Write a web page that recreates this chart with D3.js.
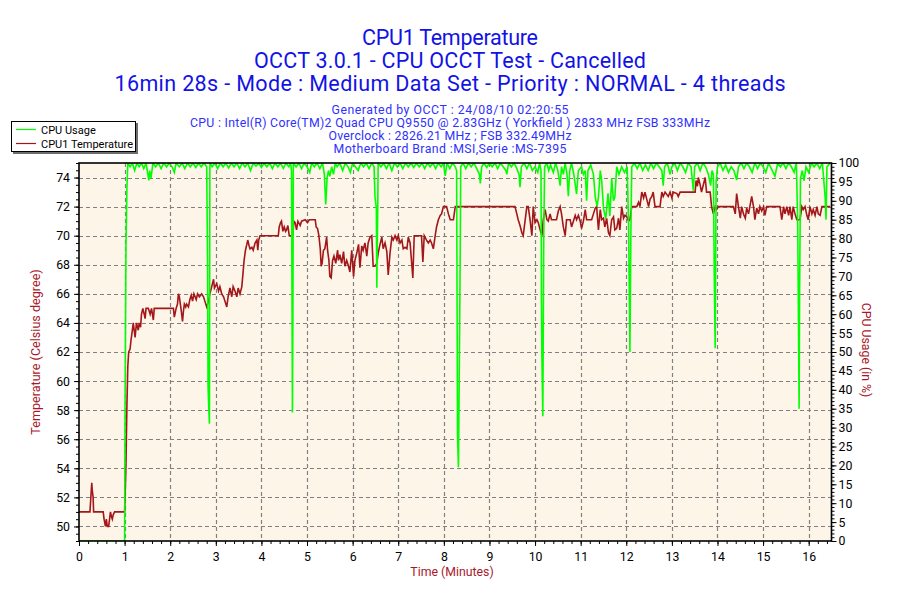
<!DOCTYPE html>
<html><head><meta charset="utf-8">
<script src="https://cdn.jsdelivr.net/npm/d3@7"></script>
<style>body{margin:0;background:#fff}svg{display:block}</style>
</head><body>
<svg id="c" width="900" height="600"></svg>
<script>
// ---------- text ----------
const titleLines = [
  "CPU1 Temperature",
  "OCCT 3.0.1 - CPU OCCT Test - Cancelled",
  "16min 28s - Mode : Medium Data Set - Priority : NORMAL - 4 threads"
];
const infoLines = [
  "Generated by OCCT : 24/08/10 02:20:55",
  "CPU : Intel(R) Core(TM)2 Quad CPU Q9550 @ 2.83GHz ( Yorkfield ) 2833 MHz FSB 333MHz",
  "Overclock : 2826.21 MHz ; FSB 332.49MHz",
  "Motherboard Brand :MSI,Serie :MS-7395"
];
const legendNames = ["CPU Usage", "CPU1 Temperature"];
const xTitle = "Time (Minutes)";
const yTitle = "Temperature (Celsius degree)";
const y2Title = "CPU Usage (in %)";

// ---------- ticks ----------
const timeTicks = d3.range(0, 17, 1);
const tempTicks = d3.range(50, 75, 2);
const usageTicks = d3.range(0, 101, 5);

// ---------- data: [minutes, value] ----------
const tempSeries = [
[0,51],[0.24,51],[0.26,52],[0.28,53],[0.29,52.5],[0.31,52],[0.32,51],[0.53,51],[0.55,50.5],[0.58,50],[0.60,50.5],[0.62,50],[0.65,50],[0.67,50.5],[0.69,51],[0.71,50.7],[0.73,50.5],[0.75,50.8],[0.78,51],[1.00,51],
[1.01,52],[1.03,54.3],[1.05,58.2],[1.07,61],[1.09,62],[1.12,62.2],[1.14,62.8],[1.17,63.5],[1.19,64],[1.23,63],[1.26,64],[1.30,63.5],[1.32,64],[1.35,63.7],[1.37,64.6],[1.40,65],[1.43,64.6],[1.45,64.3],[1.47,65],[1.52,65],[1.56,64.6],[1.59,65],[1.63,64.2],[1.65,65],[2.07,65],[2.09,64.4],[2.13,65],[2.16,65.3],[2.18,66],[2.20,65.8],[2.24,64.9],[2.27,64.1],[2.29,64.8],[2.31,65.3],[2.34,65.1],[2.36,65.3],[2.40,65.1],[2.43,65.6],[2.46,65.9],[2.49,65.5],[2.52,66],[2.57,65.6],[2.60,66],[2.64,65.8],[2.69,66],[2.73,65.8],[2.76,65.5],[2.80,65.1],[2.84,65.5],[2.87,66],[2.91,66.5],[2.95,67],[2.97,66.4],[3.02,66.7],[3.06,66.2],[3.09,66.5],[3.13,66],[3.17,65.8],[3.20,65.5],[3.24,65.1],[3.27,65.8],[3.31,66.4],[3.35,65.8],[3.38,66.5],[3.42,66.2],[3.46,65.8],[3.49,66.4],[3.53,66],[3.57,66.5],[3.59,67.2],[3.62,68.3],[3.65,69],[3.68,69.4],[3.70,69.7],[3.73,69.3],[3.75,69.1],[3.79,69.2],[3.82,69],[3.86,69.5],[3.90,69.7],[3.92,69],[3.94,69.7],[3.97,70],[4.37,70],[4.39,70.6],[4.42,70.9],[4.44,71],[4.47,70.3],[4.50,70.6],[4.53,70.3],[4.55,70.4],[4.58,70.7],[4.61,70],[4.69,70],[4.71,71],[4.74,70.9],[4.77,70.4],[4.80,71],[4.85,70.7],[4.88,71],[4.96,71.1],[5.01,70.9],[5.05,71.1],[5.18,71.1],[5.20,70.6],[5.23,70.5],[5.26,70],[5.29,69.1],[5.31,67.9],[5.33,68.1],[5.36,69],[5.39,69.1],[5.43,69.9],[5.45,69],[5.48,68.3],[5.50,67.2],[5.53,67.1],[5.56,68.3],[5.59,68.6],[5.63,68.1],[5.67,69],[5.69,68.3],[5.72,68.7],[5.76,68.1],[5.80,68.9],[5.83,67.9],[5.87,68.3],[5.91,67.9],[5.94,67.5],
[5.98,69.0],[6.02,67.2],[6.05,68.3],[6.09,68.8],[6.13,69.4],[6.16,67.8],[6.20,69.3],[6.23,69.0],[6.27,69.5],[6.31,68.6],[6.34,69.5],[6.38,69.9],[6.42,70.0],[6.45,67.9],[6.49,67.9],[6.53,68.1],[6.56,68.8],[6.60,69.4],[6.64,69.9],[6.67,69.1],[6.71,69.5],[6.75,68.9],[6.78,67.3],[6.82,68.8],[6.86,69.9],[6.89,69.7],[6.93,70.0],[6.97,69.7],[7.00,70.0],[7.04,69.5],[7.08,69.7],[7.11,69.1],[7.15,69.2],[7.19,69.1],[7.22,69.9],[7.26,69.5],[7.30,67.9],[7.32,67.1],[7.35,70.0],[7.51,70.0],[7.54,68.2],[7.57,70.0],[7.62,69.7],[7.66,69.5],[7.70,69.7],[7.73,69.5],[7.77,69.1],[7.81,70.0],[7.84,70.6],[7.88,71.1],[7.92,71.4],[7.95,71.5],[7.99,72.0],[8.06,72.0],[8.10,71.5],[8.14,71.1],[8.21,71.1],[8.25,72.0],[9.56,72.0],[9.60,71.5],[9.63,71.1],[9.67,70.7],[9.71,70.2],[9.74,70.0],[9.78,71.0],[9.82,72.0],[9.85,72.0],[9.89,71.1],[9.93,70.0],[9.96,72.0],[10.00,70.9],[10.04,71.1],[10.07,70.9],[10.11,70.4],[10.15,70.0],[10.18,71.1],[10.22,71.8],[10.26,71.1],[10.29,71.0],[10.33,71.5],[10.36,71.1],[10.47,71.1],[10.51,71.7],[10.55,72.0],[10.58,71.5],[10.62,70.6],[10.66,70.0],[10.69,71.1],[10.77,71.1],[10.80,70.6],[10.84,71.0],[10.88,71.4],[10.91,71.1],[10.95,71.4],[10.99,71.0],[11.02,70.5],[11.06,71.0],[11.10,71.8],[11.13,71.1],[11.24,71.1],[11.28,71.5],[11.32,71.9],[11.35,72.0],[11.39,70.4],[11.43,71.8],[11.46,71.1],[11.50,71.2],[11.53,70.6],[11.57,71.2],[11.61,70.2],[11.64,70.0],
[11.68,71.1],[11.72,71.3],[11.75,70.4],[11.79,70.5],[11.83,71.2],[11.86,70.4],[11.90,72.0],[11.94,71.2],[11.97,71.4],[12.01,71.3],[12.05,71.0],[12.08,71.1],[12.12,72.0],[12.23,72.0],[12.27,72.3],[12.30,72.0],[12.34,73.0],[12.38,72.6],[12.41,73.0],[12.45,72.5],[12.49,72.0],[12.52,72.5],[12.56,72.7],[12.59,73.0],[12.63,72.0],[12.74,72.0],[12.78,73.0],[12.81,72.7],[12.85,73.0],[12.92,72.7],[12.96,73.0],[13.00,72.6],[13.03,73.0],[13.11,72.9],[13.14,72.7],[13.18,73.0],[13.51,73.0],[13.53,73.8],[13.56,73.4],[13.58,74.0],[13.62,73.5],[13.65,73.0],[13.69,73.5],[13.73,74.0],[13.76,73.0],[13.84,73.0],[13.87,72.0],[13.91,71.5],[13.95,72.0],[13.98,71.8],[14.02,72.0],[14.35,72.0],[14.39,71.5],[14.42,72.9],[14.46,72.0],[14.50,71.2],[14.53,72.0],[14.57,71.5],[14.61,71.2],[14.64,71.9],[14.68,71.5],[14.71,72.0],[14.75,72.7],[14.79,72.0],[14.82,71.1],[14.86,71.9],[14.90,71.5],[14.93,72.0],[14.97,71.7],[15.01,72.0],[15.04,71.4],[15.08,72.0],[15.37,72.0],[15.41,71.1],[15.45,72.0],[15.48,71.5],[15.52,72.0],[15.56,71.4],[15.59,72.0],[15.63,71.1],[15.66,72.0],[15.70,71.5],[15.74,71.1],[15.81,71.1],[15.85,72.0],[15.88,71.8],[15.92,72.0],[15.96,71.4],[15.99,71.1],[16.03,72.0],[16.07,71.5],[16.10,71.8],[16.14,71.4],[16.18,72.0],[16.21,71.5],[16.25,71.4],[16.29,72.0],[16.47,72.0]
];

const usageSeries = [
[0,0],[1.00,0],[1.01,35],[1.02,58],[1.03,78],[1.05,93],[1.07,100],[1.12,99],[1.17,100],[1.22,98],[1.27,100],[1.32,99],[1.37,100],[1.42,98.5],[1.47,100],[1.51,97],[1.53,95.4],[1.55,98],[1.58,96],[1.62,100],[1.68,99],[1.74,100],[1.80,98.5],[1.86,100],[1.92,99],[1.98,100],[2.04,99],[2.09,97.5],[2.13,100],[2.20,99],[2.26,100],[2.32,98.5],[2.38,100],[2.44,99],[2.50,100],[2.56,98.8],[2.62,100],[2.68,99],[2.74,100],[2.80,99],[2.82,72],[2.83,41],[2.84,37],[2.86,31],[2.87,100],[2.92,99],[2.98,100],[3.04,98.5],[3.10,100],[3.16,99],[3.22,100],[3.28,98.7],[3.34,100],[3.40,99],[3.46,100],[3.52,98.5],[3.58,100],[3.64,99],[3.70,100],[3.76,98],[3.82,100],[3.88,99.2],[3.94,100],[4.00,98.8],[4.06,100],[4.12,99],[4.18,100],[4.24,98.5],[4.30,100],[4.36,99],[4.42,100],[4.48,98.6],[4.54,100],[4.60,99],[4.64,100],[4.66,98],[4.67,67],[4.68,34],[4.69,60],[4.70,100],[4.76,99],[4.82,100],[4.88,98.5],[4.94,100],[5.00,99],[5.06,97.5],[5.10,100],[5.16,99],[5.22,100],[5.28,98.5],[5.34,100],[5.38,97],[5.41,89],[5.44,96],[5.47,98],[5.50,96.5],[5.54,99],[5.58,97],[5.62,100],
[5.66,99],[5.72,100],[5.78,98],[5.84,100],[5.90,99],[5.95,97.5],[6.00,100],[6.06,99],[6.12,98],[6.18,100],[6.24,99],[6.30,100],[6.36,98.5],[6.42,100],[6.47,99],[6.49,91],[6.52,88],[6.53,67],[6.55,88],[6.56,100],[6.62,99],[6.68,100],[6.74,98.5],[6.80,100],[6.86,98],[6.92,100],[6.98,99],[7.04,100],[7.10,98.5],[7.16,100],[7.22,99],[7.28,100],[7.34,98.8],[7.40,100],[7.46,99],[7.52,100],[7.58,98.5],[7.64,100],[7.70,99],[7.76,100],[7.82,98.5],[7.88,100],[7.94,99],[7.99,100],[8.03,96.6],[8.07,100],[8.13,98.5],[8.19,100],[8.25,99],[8.28,98],[8.30,28],[8.32,19.5],[8.34,47],[8.36,78],[8.37,99],[8.42,100],[8.48,98.5],[8.54,100],[8.60,99],[8.66,100],[8.72,98.5],[8.78,97],[8.80,94.6],[8.83,99],[8.88,100],[8.94,98.8],[9.00,100],[9.06,99],[9.12,100],[9.18,98.5],[9.24,100],[9.30,99],[9.36,98],[9.38,97],[9.42,100],[9.48,99],[9.54,100],[9.60,98.5],[9.65,97],[9.67,93.6],[9.70,99],[9.76,100],[9.82,98.5],[9.88,100],[9.94,98],[10.00,99],[10.06,97.5],[10.10,100],[10.13,98],[10.14,65],[10.15,49],[10.17,33],[10.18,55],[10.19,80],[10.21,99],[10.26,100],[10.30,98],[10.34,99.5],[10.40,97.5],[10.45,100],[10.50,98],[10.55,94],[10.58,99],[10.62,97],[10.66,100],[10.70,97],[10.73,91.2],[10.76,98],[10.80,100],[10.85,97],[10.91,91.8],[10.95,98],[11.02,99],[11.06,97],[11.10,98],[11.13,90],[11.16,98],[11.22,99.5],[11.28,97],[11.32,91],[11.36,88.5],[11.39,91],[11.43,98],[11.46,95.5],[11.50,88],[11.55,85.3],
[11.60,92],[11.64,86],[11.68,96],[11.72,90],[11.75,91],[11.79,99],[11.84,97],[11.90,99],[11.96,97.5],[12.02,99],[12.05,84],[12.07,61.5],[12.08,50],[12.10,80],[12.12,99],[12.18,100],[12.24,98.5],[12.30,100],[12.36,98],[12.42,99.5],[12.48,98],[12.54,100],[12.60,98.5],[12.66,100],[12.72,99],[12.78,98],[12.81,94],[12.84,99],[12.90,100],[12.96,97],[13.00,99],[13.06,100],[13.12,98],[13.18,100],[13.24,99],[13.30,97.5],[13.36,100],[13.42,99],[13.47,92.7],[13.50,99],[13.56,100],[13.62,98],[13.68,100],[13.74,99],[13.80,97],[13.85,94],[13.88,98],[13.91,97],[13.93,70],[13.95,51],[13.97,95],[14.00,99],[14.06,100],[14.12,98],[14.18,99.5],[14.24,97.5],[14.30,99],[14.36,98],[14.42,95.5],[14.46,99],[14.52,100],[14.58,98.5],[14.64,100],[14.70,99],[14.76,97.5],[14.82,100],[14.88,98.5],[14.94,100],[15.00,99],[15.06,97.5],[15.12,100],[15.18,98.5],[15.26,96.5],[15.32,100],[15.38,99],[15.44,100],[15.50,98.5],[15.56,100],[15.62,99],[15.68,97.5],[15.73,100],[15.76,83],[15.78,51],[15.79,35],[15.80,65],[15.82,96],[15.86,98],[15.90,95.3],[15.94,99],[16.00,97.5],[16.06,100],[16.12,99],[16.18,100],[16.24,98.5],[16.30,100],[16.36,91],[16.38,85],[16.40,99],[16.47,100]
];

// ---------- layout ----------
const FONT = "Roboto, 'Liberation Sans', sans-serif";
const plot = {left:79, right:831.5, top:163, bottom:541};
const titleWidths = [176, 392, 671];
const infoWidths = [237, 520, 243, 233];
const colTitle = "#1212e6", colInfo = "#3030ff", colAxisTitle = "#a8182a";
const colTemp = "#a3161a", colUsage = "#00ff00", bg = "#fdf6e8";

const svg = d3.select("#c");
svg.append("rect").attr("width",900).attr("height",600).attr("fill","#fff");

const x = d3.scaleLinear().domain([0,16.5]).range([plot.left, plot.right]);
const yT = d3.scaleLinear().domain([49,75]).range([plot.bottom, plot.top]);
const yU = d3.scaleLinear().domain([0,100]).range([plot.bottom, plot.top]);

// titles
svg.selectAll("text.title").data(titleLines).join("text")
  .attr("x",450).attr("y",(d,i)=>45+i*23).attr("text-anchor","middle")
  .attr("textLength",(d,i)=>titleWidths[i]).attr("lengthAdjust","spacing")
  .attr("font-family",FONT).attr("font-size",21.5).attr("fill",colTitle).text(d=>d);
svg.selectAll("text.info").data(infoLines).join("text")
  .attr("x",450).attr("y",(d,i)=>114+i*13).attr("text-anchor","middle")
  .attr("textLength",(d,i)=>infoWidths[i]).attr("lengthAdjust","spacing")
  .attr("font-family",FONT).attr("font-size",12.3).attr("fill",colInfo).text(d=>d);

// plot background
svg.append("rect").attr("x",plot.left).attr("y",plot.top)
  .attr("width",plot.right-plot.left).attr("height",plot.bottom-plot.top).attr("fill",bg);

// grid
const grid = svg.append("g").attr("stroke","#808080").attr("stroke-width",1.2).attr("stroke-dasharray","4,3");
grid.selectAll("line.v").data(timeTicks.filter(d=>d>0)).join("line")
  .attr("x1",d=>Math.round(x(d))+0.5).attr("x2",d=>Math.round(x(d))+0.5)
  .attr("y1",plot.top).attr("y2",plot.bottom);
grid.selectAll("line.h").data(tempTicks).join("line")
  .attr("y1",d=>Math.round(yT(d))+0.5).attr("y2",d=>Math.round(yT(d))+0.5)
  .attr("x1",plot.left).attr("x2",plot.right);

// series
svg.append("clipPath").attr("id","clip").append("rect")
  .attr("x",plot.left).attr("y",plot.top).attr("width",plot.right-plot.left).attr("height",plot.bottom-plot.top);
const lineT = d3.line().x(d=>x(d[0])).y(d=>yT(d[1]));
const lineU = d3.line().x(d=>x(d[0])).y(d=>yU(d[1]));
const series = svg.append("g").attr("clip-path","url(#clip)");
series.append("path").datum(tempSeries).attr("d",lineT).attr("fill","none")
  .attr("stroke",colTemp).attr("stroke-width",1.6);
series.append("path").datum(usageSeries).attr("d",lineU).attr("fill","none")
  .attr("stroke",colUsage).attr("stroke-width",1.6);

// axes
function styleAxis(g){ g.select(".domain").remove(); g.selectAll("text").attr("font-family",FONT).attr("font-size",12.3).attr("fill","#000"); g.selectAll("line").attr("stroke","#000"); }
svg.append("g").attr("transform",`translate(0,${plot.bottom})`)
  .call(d3.axisBottom(x).tickValues(d3.range(0,16.5,0.2)).tickSize(3).tickFormat("")).call(styleAxis);
svg.append("g").attr("transform",`translate(0,${plot.bottom})`)
  .call(d3.axisBottom(x).tickValues(timeTicks).tickSize(5).tickPadding(6).tickFormat(d3.format("d"))).call(styleAxis);
svg.append("g").attr("transform",`translate(${plot.left},0)`)
  .call(d3.axisLeft(yT).tickValues(d3.range(49,75.01,0.5)).tickSize(3).tickFormat("")).call(styleAxis);
svg.append("g").attr("transform",`translate(${plot.left},0)`)
  .call(d3.axisLeft(yT).tickValues(tempTicks).tickSize(5).tickPadding(4).tickFormat(d3.format("d"))).call(styleAxis);
svg.append("g").attr("transform",`translate(${plot.right},0)`)
  .call(d3.axisRight(yU).tickValues(d3.range(0,100.01,1)).tickSize(3).tickFormat("")).call(styleAxis);
svg.append("g").attr("transform",`translate(${plot.right},0)`)
  .call(d3.axisRight(yU).tickValues(usageTicks).tickSize(5).tickPadding(2).tickFormat(d3.format("d"))).call(styleAxis);

// frame
svg.append("rect").attr("x",plot.left).attr("y",plot.top)
  .attr("width",plot.right-plot.left).attr("height",plot.bottom-plot.top)
  .attr("fill","none").attr("stroke","#000").attr("stroke-width",1.6);

// axis titles
svg.append("text").attr("x",452).attr("y",576).attr("text-anchor","middle")
  .attr("font-family",FONT).attr("font-size",12.3).attr("fill",colAxisTitle).text(xTitle);
svg.append("text").attr("transform","translate(40,352) rotate(-90)").attr("text-anchor","middle")
  .attr("font-family",FONT).attr("font-size",12.6).attr("fill",colAxisTitle).text(yTitle);
svg.append("text").attr("transform","translate(862,350) rotate(90)").attr("text-anchor","middle")
  .attr("font-family",FONT).attr("font-size",12.3).attr("fill",colAxisTitle).text(y2Title);

// legend
const lg = svg.append("g");
lg.append("rect").attr("x",13).attr("y",123).attr("width",125).attr("height",31).attr("fill","#6e6e6e");
lg.append("rect").attr("x",11.5).attr("y",121.5).attr("width",124).attr("height",30).attr("fill","#fff").attr("stroke","#000");
const legendColors = [colUsage, colTemp];
legendNames.forEach((n,i)=>{
  const yy = 129.5 + i*14;
  lg.append("line").attr("x1",16).attr("x2",36).attr("y1",yy).attr("y2",yy).attr("stroke",legendColors[i]).attr("stroke-width",1.2);
  lg.append("text").attr("x",41).attr("y",yy+4).attr("font-family",FONT).attr("font-size",11).attr("fill","#000").text(n);
});
</script>
</body></html>
